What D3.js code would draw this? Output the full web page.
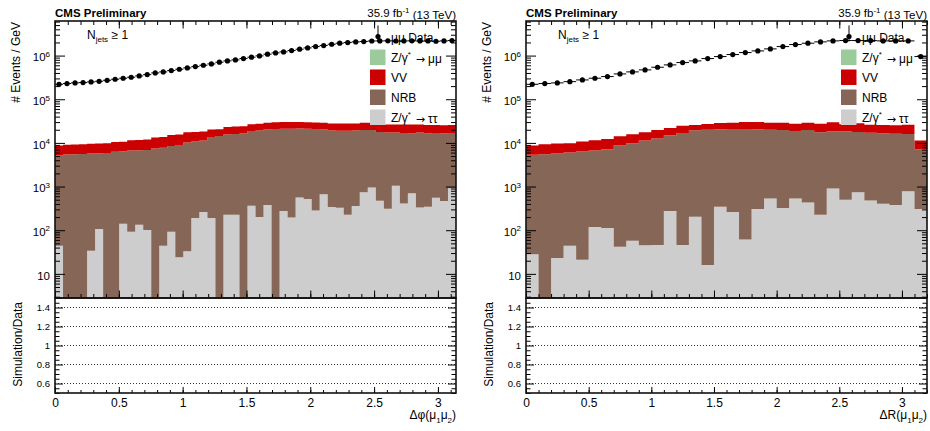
<!DOCTYPE html>
<html>
<head>
<meta charset="utf-8">
<script src="https://cdn.jsdelivr.net/npm/d3@7"></script>
<style>
  body { margin: 0; background: #fff; }
</style>
</head>
<body>
<div id="chart"></div>
<script>
// Events / GeV
// Left plot: delta phi, 50 bins from 0 to pi
var dphiData = [2.20e5, 2.29e5, 2.37e5, 2.41e5, 2.49e5, 2.58e5, 2.72e5, 2.87e5, 3.03e5, 3.19e5,
  3.42e5, 3.67e5, 4.01e5, 4.23e5, 4.54e5, 4.87e5, 5.22e5, 5.60e5, 6.01e5, 6.45e5,
  7.05e5, 7.56e5, 7.96e5, 8.55e5, 9.18e5, 9.85e5, 1.075e6, 1.153e6, 1.216e6, 1.304e6,
  1.40e6, 1.50e6, 1.61e6, 1.70e6, 1.82e6, 1.92e6, 1.99e6, 2.06e6, 2.10e6, 2.16e6,
  2.17e6, 2.18e6, 2.16e6, 2.17e6, 2.18e6, 2.16e6, 2.17e6, 2.13e6, 2.17e6, 2.21e6];
var dphiTauTau = [44, 0, 0, 0, 34, 106, 0, 0, 141, 92,
  134, 101, 0, 44, 92, 24, 33, 190, 261, 190,
  0, 226, 226, 0, 362, 200, 376, 0, 274, 196,
  561, 516, 283, 670, 339, 327, 226, 357, 745, 949,
  472, 310, 1037, 409, 706, 332, 344, 552, 464, 919];
var dphiNRB = [5090, 5450, 5500, 5600, 5720, 5700, 5900, 6230, 6260, 6610,
  6680, 6820, 7490, 7650, 8450, 8980, 10230, 10510, 11140, 13510,
  14450, 15400, 15770, 16500, 18440, 19100, 19920, 20900, 20830, 20900,
  20740, 20580, 20610, 19670, 18950, 18760, 18760, 18930, 19070, 18870,
  17360, 17060, 16330, 16500, 15770, 17040, 16140, 16360, 16280, 15990];
var dphiVV = [3640, 3650, 3690, 3690, 3840, 3880, 3890, 4200, 4250, 4820,
  4900, 5040, 5870, 6020, 6690, 6630, 7280, 7130, 6800, 6640,
  6200, 7560, 7670, 7420, 7920, 8120, 8600, 8800, 9050, 9050,
  8850, 8740, 8480, 8560, 8580, 8780, 8740, 8720, 9080, 9080,
  8890, 9070, 9070, 9390, 9820, 9070, 9280, 8850, 8740, 8850];

// Right plot: delta R, 32 bins from 0 to 3.2
var drData = [2.20e5, 2.29e5, 2.37e5, 2.53e5, 2.77e5, 3.03e5, 3.31e5, 3.80e5, 4.23e5, 4.70e5,
  5.41e5, 6.12e5, 6.92e5, 7.56e5, 8.55e5, 9.50e5, 1.056e6, 1.173e6, 1.281e6, 1.425e6,
  1.61e6, 1.79e6, 1.92e6, 2.06e6, 2.17e6, 2.21e6, 2.21e6, 2.21e6, 2.17e6, 2.17e6,
  2.17e6, 9.5e5];
var drTauTau = [28, 0, 23, 44, 21, 118, 112, 42, 57, 45,
  46, 274, 46, 203, 16, 344, 261, 61, 305, 532,
  321, 532, 432, 226, 900, 497, 745, 479, 403, 376,
  785, 305];
var drNRB = [5290, 5520, 5680, 5970, 6310, 6550, 7070, 8630, 9780, 11250,
  12490, 14730, 16860, 19290, 20100, 20210, 20630, 20830, 20250, 19590,
  19500, 18260, 19390, 17310, 17590, 17990, 17090, 16700, 16240, 15910,
  15250, 6880];
var drVV = [3350, 3820, 3940, 3830, 4380, 4860, 5160, 5550, 5970, 6250,
  7280, 6990, 7920, 6270, 7030, 8080, 8170, 9240, 9580, 8940,
  9240, 8830, 9240, 10080, 11230, 8230, 10340, 8980, 9120, 9070,
  10130, 4110];

// tick values and labels
var xMajorTicks = [0, 0.5, 1, 1.5, 2, 2.5, 3];
var logMajorTicks = [10, 1e2, 1e3, 1e4, 1e5, 1e6];
var ratioTicks = [0.6, 0.8, 1, 1.2, 1.4];
var legendNames = ["μμ Data", "Z/γ* → μμ", "VV", "NRB", "Z/γ* → ττ"];
var legendKeys = ["data", "zmm", "vv", "nrb", "tt"];

var FONT = '"Liberation Sans", Arial, Helvetica, sans-serif';
var colors = {zmm: "#9bcb9b", vv: "#cc0000", nrb: "#866757", tt: "#cdcdcd"};

var svgWidth = 930, svgHeight = 431;
var topY = 21, midY = 298, botY = 393;

var svg = d3.select("#chart").append("svg")
  .attr("width", svgWidth)
  .attr("height", svgHeight)
  .attr("font-family", FONT);

// "10" with exponent as superscript
function logLabel(sel) {
  sel.each(function(d) {
    var t = d3.select(this).text(null);
    var e = Math.round(Math.log10(d));
    t.append("tspan").text("10");
    if (e > 1) t.append("tspan").attr("dy", "-0.55em").attr("font-size", "8px").text(e);
  });
}

function cleanAxis(gAxis, size) {
  gAxis.select(".domain").remove();
  gAxis.attr("font-family", FONT).attr("font-size", size || 12);
  gAxis.selectAll("line").attr("stroke", "#000");
  return gAxis;
}

function drawPanel(p, idx) {
  var g = svg.append("g");
  var n = p.data.length;
  var binW = p.xMax / n;

  var x = d3.scaleLinear().domain([0, p.xMax]).range([p.left, p.right]);
  var y = d3.scaleLog().domain([2.8, 6.2e6]).range([midY, topY]).clamp(true);
  var yr = d3.scaleLinear().domain([0.5, 1.5]).range([botY, midY]);

  var clipId = "clip" + idx;
  g.append("clipPath").attr("id", clipId).append("rect")
    .attr("x", p.left).attr("y", topY)
    .attr("width", p.right - p.left).attr("height", midY - topY);

  // stacked histograms
  var rows = p.data.map(function(d, i) {
    return {i: i, tt: p.tt[i], nrb: p.nrb[i], vv: p.vv[i]};
  });
  var layers = d3.stack().keys(["tt", "nrb", "vv"])(rows);

  var area = d3.area()
    .curve(d3.curveStepAfter)
    .x(function(d) { return x(d.x); })
    .y0(function(d) { return y(d.lo); })
    .y1(function(d) { return y(d.hi); });

  g.append("g").attr("clip-path", "url(#" + clipId + ")")
    .selectAll("path").data(layers).enter().append("path")
    .attr("fill", function(s) { return colors[s.key]; })
    .attr("d", function(s) {
      var pts = s.map(function(d) { return {x: d.data.i * binW, lo: d[0], hi: d[1]}; });
      var last = pts[pts.length - 1];
      pts.push({x: p.xMax, lo: last.lo, hi: last.hi});
      return area(pts);
    });

  // legend
  var lx = p.right - 86;
  var leg = g.append("g").attr("font-size", 12);
  legendNames.forEach(function(name, k) {
    var base = 41.5 + k * 20;
    if (legendKeys[k] == "data") {
      leg.append("line")
        .attr("x1", lx + 8).attr("x2", lx + 8)
        .attr("y1", base - 16).attr("y2", base)
        .attr("stroke", "#000");
      leg.append("circle").attr("cx", lx + 8).attr("cy", base - 5).attr("r", 2.6).attr("fill", "#000");
    } else {
      leg.append("rect")
        .attr("x", lx).attr("y", base - 12)
        .attr("width", 15.5).attr("height", 15.5)
        .attr("fill", colors[legendKeys[k]]);
    }
    var t = leg.append("text").attr("x", lx + 21).attr("y", base);
    var parts = name.split("*");
    t.append("tspan").text(parts[0]);
    if (parts.length > 1) {
      var rest = parts[1].trim().split(" ");
      t.append("tspan").attr("dy", "-0.6em").attr("font-size", "8px").text("*");
      t.append("tspan").attr("dy", "0.6em").attr("dx", 5)
        .attr("font-family", "DejaVu Sans").attr("font-size", 11).text(rest[0]);
      t.append("tspan").attr("dx", 3).text(rest[1]);
    }
  });

  // data points with bin-width bars
  var pts = g.append("g");
  pts.selectAll("line").data(p.data).enter().append("line")
    .attr("x1", function(d, i) { return x(i * binW); })
    .attr("x2", function(d, i) { return x((i + 1) * binW); })
    .attr("y1", function(d) { return y(d); })
    .attr("y2", function(d) { return y(d); })
    .attr("stroke", "#000").attr("stroke-width", 1);
  pts.selectAll("circle").data(p.data).enter().append("circle")
    .attr("cx", function(d, i) { return x((i + 0.5) * binW); })
    .attr("cy", function(d) { return y(d); })
    .attr("r", 2.6)
    .attr("fill", "#000");

  // ratio reference lines
  g.append("g").selectAll("line").data(ratioTicks).enter().append("line")
    .attr("x1", p.left).attr("x2", p.right)
    .attr("y1", function(d) { return yr(d); })
    .attr("y2", function(d) { return yr(d); })
    .attr("stroke", "#000").attr("stroke-width", 0.8)
    .attr("stroke-dasharray", "1,2");

  // axes
  var xMinor = d3.range(0, Math.round(p.xMax * 10) + 1).map(function(k) { return k / 10; })
    .filter(function(v) { return v <= p.xMax; });
  var yMinor = y.ticks().filter(function(v) { return logMajorTicks.indexOf(v) < 0 && v !== 1; });
  var rMinor = d3.range(10, 31).map(function(k) { return k * 0.05; })
    .filter(function(v) { return Math.abs(v * 5 - Math.round(v * 5)) > 1e-6; });

  // upper pad x ticks (top and bottom edges)
  cleanAxis(g.append("g").attr("transform", "translate(0," + midY + ")")
    .call(d3.axisTop(x).tickValues(xMajorTicks).tickSize(7.5).tickFormat("")));
  cleanAxis(g.append("g").attr("transform", "translate(0," + midY + ")")
    .call(d3.axisTop(x).tickValues(xMinor).tickSize(4).tickFormat("")));
  cleanAxis(g.append("g").attr("transform", "translate(0," + topY + ")")
    .call(d3.axisBottom(x).tickValues(xMajorTicks).tickSize(7.5).tickFormat("")));
  cleanAxis(g.append("g").attr("transform", "translate(0," + topY + ")")
    .call(d3.axisBottom(x).tickValues(xMinor).tickSize(4).tickFormat("")));

  // upper pad y ticks
  var yl = cleanAxis(g.append("g").attr("transform", "translate(" + p.left + ",0)")
    .call(d3.axisLeft(y).tickValues(logMajorTicks).tickSizeInner(-10).tickSizeOuter(0).tickPadding(5)), 11.5);
  yl.selectAll("text").attr("dy", "0.45em").call(logLabel);
  cleanAxis(g.append("g").attr("transform", "translate(" + p.left + ",0)")
    .call(d3.axisRight(y).tickValues(yMinor).tickSize(5).tickFormat("")));
  cleanAxis(g.append("g").attr("transform", "translate(" + p.right + ",0)")
    .call(d3.axisLeft(y).tickValues(logMajorTicks).tickSize(10).tickFormat("")));
  cleanAxis(g.append("g").attr("transform", "translate(" + p.right + ",0)")
    .call(d3.axisLeft(y).tickValues(yMinor).tickSize(5).tickFormat("")));

  // ratio pad x axis with labels
  cleanAxis(g.append("g").attr("transform", "translate(0," + botY + ")")
    .call(d3.axisBottom(x).tickValues(xMajorTicks).tickSizeInner(-6).tickSizeOuter(0)
      .tickPadding(5).tickFormat(d3.format("~g"))));
  cleanAxis(g.append("g").attr("transform", "translate(0," + botY + ")")
    .call(d3.axisTop(x).tickValues(xMinor).tickSize(3).tickFormat("")));

  // ratio pad y axis
  cleanAxis(g.append("g").attr("transform", "translate(" + p.left + ",0)")
    .call(d3.axisLeft(yr).tickValues(ratioTicks).tickSizeInner(-8).tickSizeOuter(0)
      .tickPadding(5).tickFormat(d3.format("~g"))), 9.5);
  cleanAxis(g.append("g").attr("transform", "translate(" + p.left + ",0)")
    .call(d3.axisRight(yr).tickValues(rMinor).tickSize(4.5).tickFormat("")));
  cleanAxis(g.append("g").attr("transform", "translate(" + p.right + ",0)")
    .call(d3.axisLeft(yr).tickValues(ratioTicks).tickSize(8).tickFormat("")));
  cleanAxis(g.append("g").attr("transform", "translate(" + p.right + ",0)")
    .call(d3.axisLeft(yr).tickValues(rMinor).tickSize(4.5).tickFormat("")));

  // frames
  [[topY, midY], [midY, botY]].forEach(function(r) {
    g.append("rect")
      .attr("x", p.left).attr("y", r[0])
      .attr("width", p.right - p.left).attr("height", r[1] - r[0])
      .attr("fill", "none").attr("stroke", "#111").attr("stroke-width", 1.6);
  });

  // header texts
  g.append("text").attr("x", p.left).attr("y", 17)
    .attr("font-size", 11.5).attr("font-weight", "bold").text("CMS Preliminary");
  var lumi = g.append("text").attr("x", p.right).attr("y", 17)
    .attr("font-size", 11.5).attr("text-anchor", "end");
  lumi.append("tspan").text("35.9 fb");
  lumi.append("tspan").attr("dy", "-0.5em").attr("font-size", "8px").text("-1");
  lumi.append("tspan").attr("dy", "0.5em").text(" (13 TeV)");

  // category label
  var nj = g.append("text").attr("x", p.left + 32).attr("y", 39).attr("font-size", 12);
  nj.append("tspan").text("N");
  nj.append("tspan").attr("dy", 3).attr("font-size", "8px").text("jets");
  nj.append("tspan").attr("dy", -3).text(" ≥ 1");

  // axis titles
  g.append("text")
    .attr("transform", "translate(" + (p.left - 35.5) + "," + 22 + ") rotate(-90)")
    .attr("text-anchor", "end").attr("font-size", 12)
    .text("# Events / GeV");
  g.append("text")
    .attr("transform", "translate(" + (p.left - 33) + "," + 302 + ") rotate(-90)")
    .attr("text-anchor", "end").attr("font-size", 12)
    .text("Simulation/Data");

  var xt = g.append("text").attr("x", p.right).attr("y", 419)
    .attr("text-anchor", "end").attr("font-size", 12);
  xt.append("tspan").text(p.xName + "(μ");
  xt.append("tspan").attr("dy", 4).attr("font-size", "8px").text("1");
  xt.append("tspan").attr("dy", -4).text("μ");
  xt.append("tspan").attr("dy", 4).attr("font-size", "8px").text("2");
  xt.append("tspan").attr("dy", -4).text(")");
}

drawPanel({left: 55, right: 456, xMax: Math.PI, xName: "Δφ",
  data: dphiData, tt: dphiTauTau, nrb: dphiNRB, vv: dphiVV}, 0);
drawPanel({left: 526, right: 927, xMax: 3.2, xName: "ΔR",
  data: drData, tt: drTauTau, nrb: drNRB, vv: drVV}, 1);
</script>
</body>
</html>
